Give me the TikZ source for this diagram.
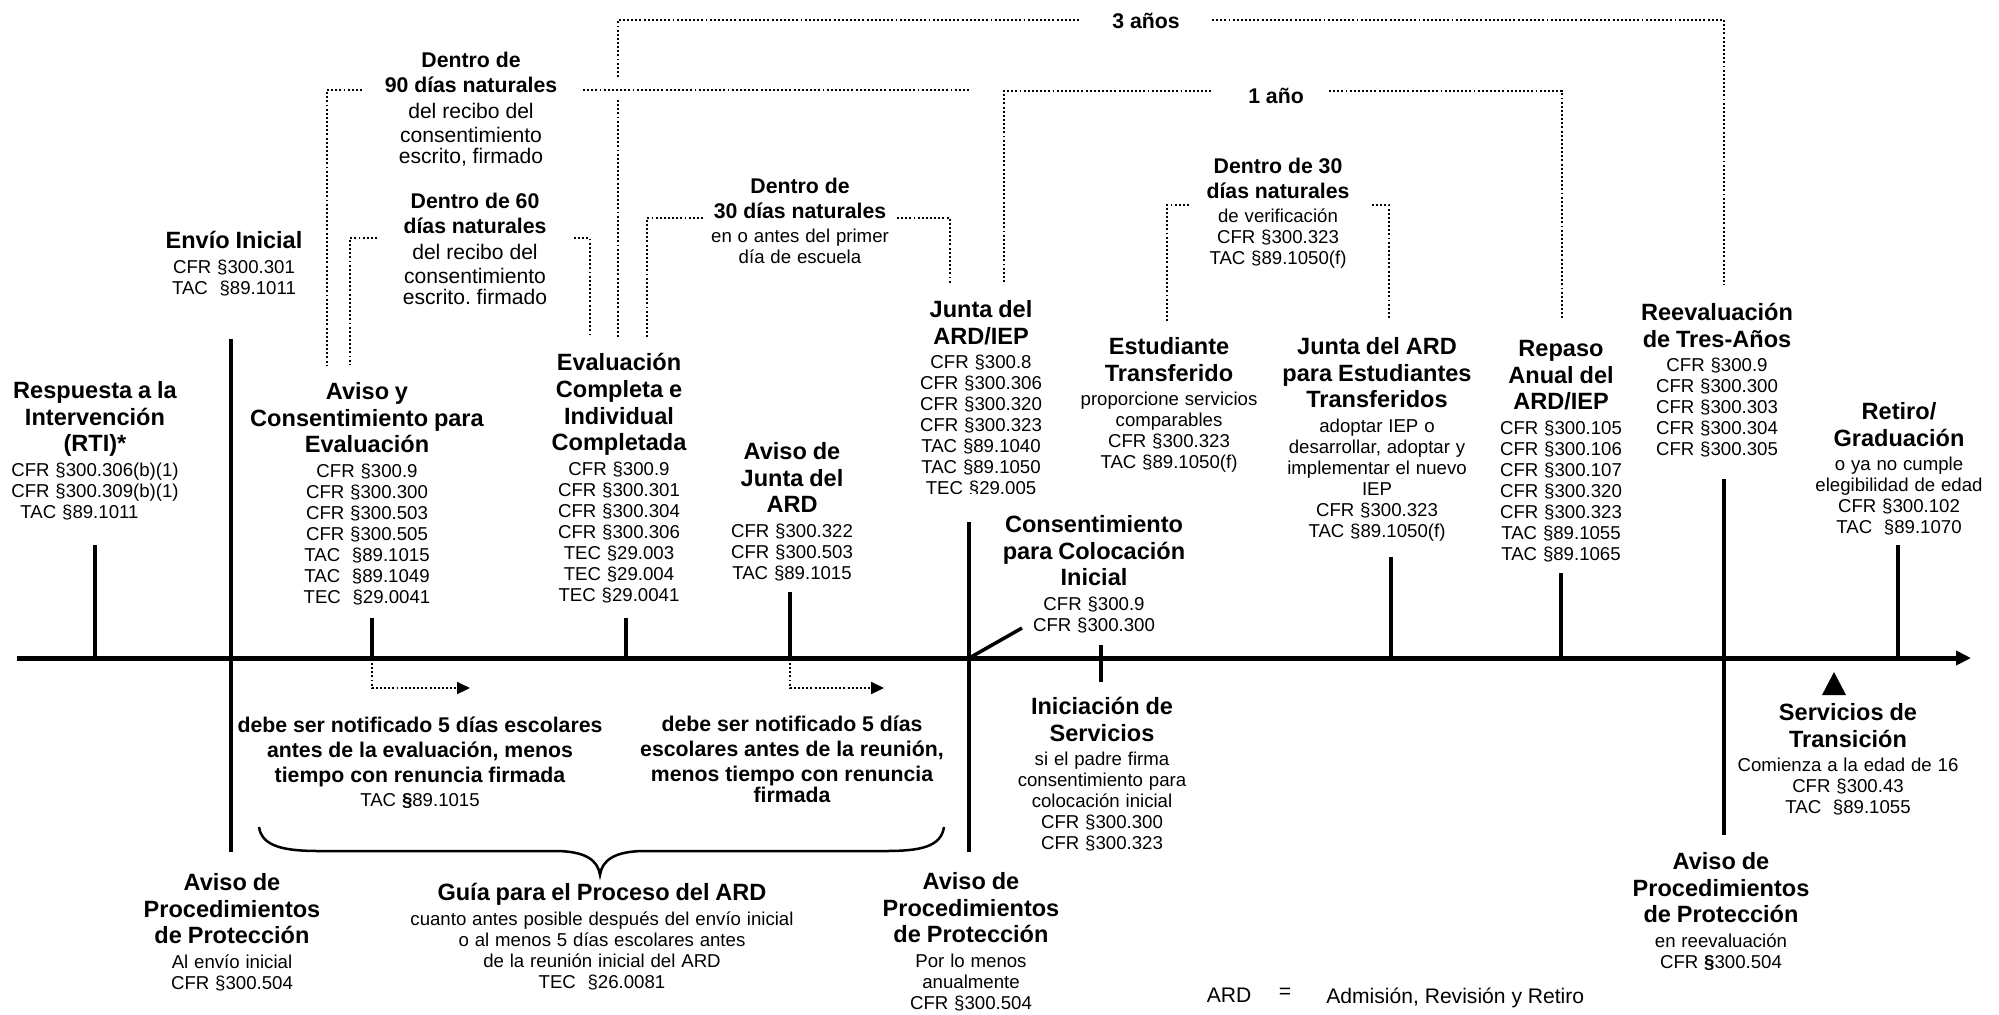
\documentclass[tikz,border=0pt]{standalone}
\usepackage{fontspec}
\setmainfont{Liberation Sans}
\usetikzlibrary{arrows.meta}
\frenchspacing

% text sizes
\newcommand{\hd}{\fontsize{13.4}{15.2}\selectfont\bfseries}
\newcommand{\md}{\fontsize{12.1}{14}\selectfont\bfseries}
\newcommand{\mr}{\fontsize{12}{13.7}\selectfont\mdseries}
\newcommand{\sm}{\fontsize{10.6}{11.95}\selectfont\mdseries}
\newcommand{\lawrefs}{\par\vspace{2pt}\sm}
\newcommand{\plaintxt}{\par\vspace{1pt}\mr}

\tikzset{
  evt/.style={anchor=north, align=center, text width=90mm, inner sep=0pt},
  tick/.style={line width=0.7mm},
  dots/.style={line width=1.2pt, dash pattern=on 1.1pt off 1.25pt},
  dotarrow/.style={dots, -{Triangle[length=2.6mm,width=2.4mm]}},
}

\begin{document}
\begin{tikzpicture}[x=0.2mm, y=-0.2mm]
  \useasboundingbox (0,0) rectangle (1999,1014);

  % timeline
  \draw[line width=1mm, -{Triangle[length=3mm,width=2.8mm]}] (17,658) -- (1971,658);

  % ticks
  \draw[tick] (95,545) -- (95,658);
  \draw[tick] (231,339) -- (231,852);
  \draw[tick] (372,618) -- (372,658);
  \draw[tick] (626,618) -- (626,658);
  \draw[tick] (790,592) -- (790,658);
  \draw[tick] (969,522) -- (969,852);
  \draw[tick] (971,657) -- (1022,628);
  \draw[tick] (1101,645) -- (1101,682);
  \draw[tick] (1391,557) -- (1391,658);
  \draw[tick] (1561,573) -- (1561,658);
  \draw[tick] (1724,479) -- (1724,835);
  \draw[tick] (1898,545) -- (1898,658);
  \fill (1834,672) -- (1846,695) -- (1822,695) -- cycle;

  % notice arrows
  \draw[dotarrow] (372,663) -- (372,688) -- (470,688);
  \draw[dotarrow] (790,663) -- (790,688) -- (884,688);

  % brace
  \draw[line width=0.5mm] (259,827) .. controls (262,847) and (285,851) .. (320,851)
    -- (555,851) .. controls (585,851) and (598,860) .. (600,875)
    .. controls (602,860) and (615,851) .. (645,851)
    -- (885,851) .. controls (920,851) and (941,847) .. (944,827);

  % time brackets
  \draw[dots] (362,90) -- (327,90) -- (327,365);
  \draw[dots] (583,90) -- (970,90);
  \draw[dots] (618,100) -- (618,337);
  \draw[dots] (377,238) -- (350,238) -- (350,365);
  \draw[dots] (574,238) -- (590,238) -- (590,335);
  \draw[dots] (703,218) -- (647,218) -- (647,337);
  \draw[dots] (897,218) -- (950,218) -- (950,283);
  \draw[dots] (618,77) -- (618,20) -- (1080,20);
  \draw[dots] (1212,20) -- (1724,20) -- (1724,285);
  \draw[dots] (1004,282) -- (1004,91) -- (1212,91);
  \draw[dots] (1329,91) -- (1562,91) -- (1562,320);
  \draw[dots] (1189,205) -- (1167,205) -- (1167,322);
  \draw[dots] (1372,205) -- (1389,205) -- (1389,320);

  \node[evt] (tres) at (1146,13) {\md 3 años};
  \node[evt] (uno) at (1276,88) {\md 1 año};
  \node[evt] (d90) at (471,52) {\md Dentro de\\90 días naturales\plaintxt del recibo del\\consentimiento\\escrito, firmado};
  \node[evt] (d60) at (475,193) {\md Dentro de 60\\días naturales\plaintxt del recibo del\\consentimiento\\escrito. firmado};
  \node[evt] (d30) at (800,178) {\md Dentro de\\30 días naturales\lawrefs en o antes del primer\\día de escuela};
  \node[evt] (d30t) at (1278,158) {\md Dentro de 30\\días naturales\lawrefs de verificación\\CFR §300.323\\TAC §89.1050(f)};

  % events above the line
  \node[evt] (rti) at (95,381) {\hd Respuesta a la\\Intervención\\(RTI)*\lawrefs CFR §300.306(b)(1)\\CFR §300.309(b)(1)\\TAC §89.1011\phantom{000}};
  \node[evt] (envio) at (234,231) {\hd Envío Inicial\lawrefs CFR §300.301\\TAC\ \ §89.1011};
  \node[evt] (avisoeval) at (367,382) {\hd Aviso y\\Consentimiento para\\Evaluación\lawrefs CFR §300.9\\CFR §300.300\\CFR §300.503\\CFR §300.505\\TAC\ \ §89.1015\\TAC\ \ §89.1049\\TEC\ \ §29.0041};
  \node[evt] (evalcomp) at (619,353) {\hd Evaluación\\Completa e\\Individual\\Completada\lawrefs CFR §300.9\\CFR §300.301\\CFR §300.304\\CFR §300.306\\TEC §29.003\\TEC §29.004\\TEC §29.0041};
  \node[evt] (avisojunta) at (792,442) {\hd Aviso de\\Junta del\\ARD\lawrefs CFR §300.322\\CFR §300.503\\TAC §89.1015};
  \begin{scope}
    \clip (880,290) rectangle (1080,493);
    \node[evt] (juntaiep) at (981,300) {\hd Junta del\\ARD/IEP\lawrefs CFR §300.8\\CFR §300.306\\CFR §300.320\\CFR §300.323\\TAC §89.1040\\TAC §89.1050\\TEC §29.005};
  \end{scope}
  \node[evt] (transf) at (1169,337) {\hd Estudiante\\Transferido\lawrefs proporcione servicios\\comparables\\CFR §300.323\\TAC §89.1050(f)};
  \node[evt] (consent) at (1094,515) {\hd Consentimiento\\para Colocación\\Inicial\lawrefs CFR §300.9\\CFR §300.300};
  \node[evt] (juntatransf) at (1377,337) {\hd Junta del ARD\\para Estudiantes\\Transferidos\lawrefs adoptar IEP o\\desarrollar, adoptar y\\implementar el nuevo\\IEP\\CFR §300.323\\TAC §89.1050(f)};
  \node[evt] (repaso) at (1561,340) {\hd Repaso\\Anual del\\ARD/IEP\lawrefs CFR §300.105\\CFR §300.106\\CFR §300.107\\CFR §300.320\\CFR §300.323\\TAC §89.1055\\TAC §89.1065};
  \node[evt] (reeval) at (1717,303) {\hd Reevaluación\\de Tres-Años\lawrefs CFR §300.9\\CFR §300.300\\CFR §300.303\\CFR §300.304\\CFR §300.305};
  \node[evt] (retiro) at (1899,402) {\hd Retiro/\\Graduación\lawrefs o ya no cumple\\elegibilidad de edad\\CFR §300.102\\TAC\ \ §89.1070};

  % events below the line
  \node[evt] (evalnote) at (420,717) {\md debe ser notificado 5 días escolares\\antes de la evaluación, menos\\tiempo con renuncia firmada\lawrefs TAC \textbf{§}89.1015};
  \node[evt] (juntanote) at (792,716) {\md debe ser notificado 5 días\\escolares antes de la reunión,\\menos tiempo con renuncia\\firmada};
  \node[evt] (inicio) at (1102,697) {\hd Iniciación de\\Servicios\lawrefs si el padre firma\\consentimiento para\\colocación inicial\\CFR §300.300\\CFR §300.323};
  \node[evt] (transicion) at (1848,703) {\hd Servicios de\\Transición\lawrefs Comienza a la edad de 16\\CFR §300.43\\TAC\ \ §89.1055};
  \node[evt] (procleft) at (232,873) {\hd Aviso de\\Procedimientos\\de Protección\lawrefs Al envío inicial\\CFR §300.504};
  \node[evt] (guia) at (602,883) {\hd Guía para el Proceso del ARD\lawrefs cuanto antes posible después del envío inicial\\o al menos 5 días escolares antes\\de la reunión inicial del ARD\\TEC\ \ §26.0081};
  \node[evt] (procmid) at (971,872) {\hd Aviso de\\Procedimientos\\de Protección\lawrefs Por lo menos\\anualmente\\CFR §300.504};
  \node[evt] (procright) at (1721,852) {\hd Aviso de\\Procedimientos\\de Protección\lawrefs en reevaluación\\CFR \textbf{§}300.504};

  % legend
  \node[evt, text width=] (ardkey) at (1229,988) {\mr ARD};
  \node[evt, text width=] (ardeq) at (1285,988) {\mr =};
  \node[evt, text width=, anchor=north west] (ardtxt) at (1326,988) {\mr Admisión, Revisión y Retiro};
\end{tikzpicture}
\end{document}
